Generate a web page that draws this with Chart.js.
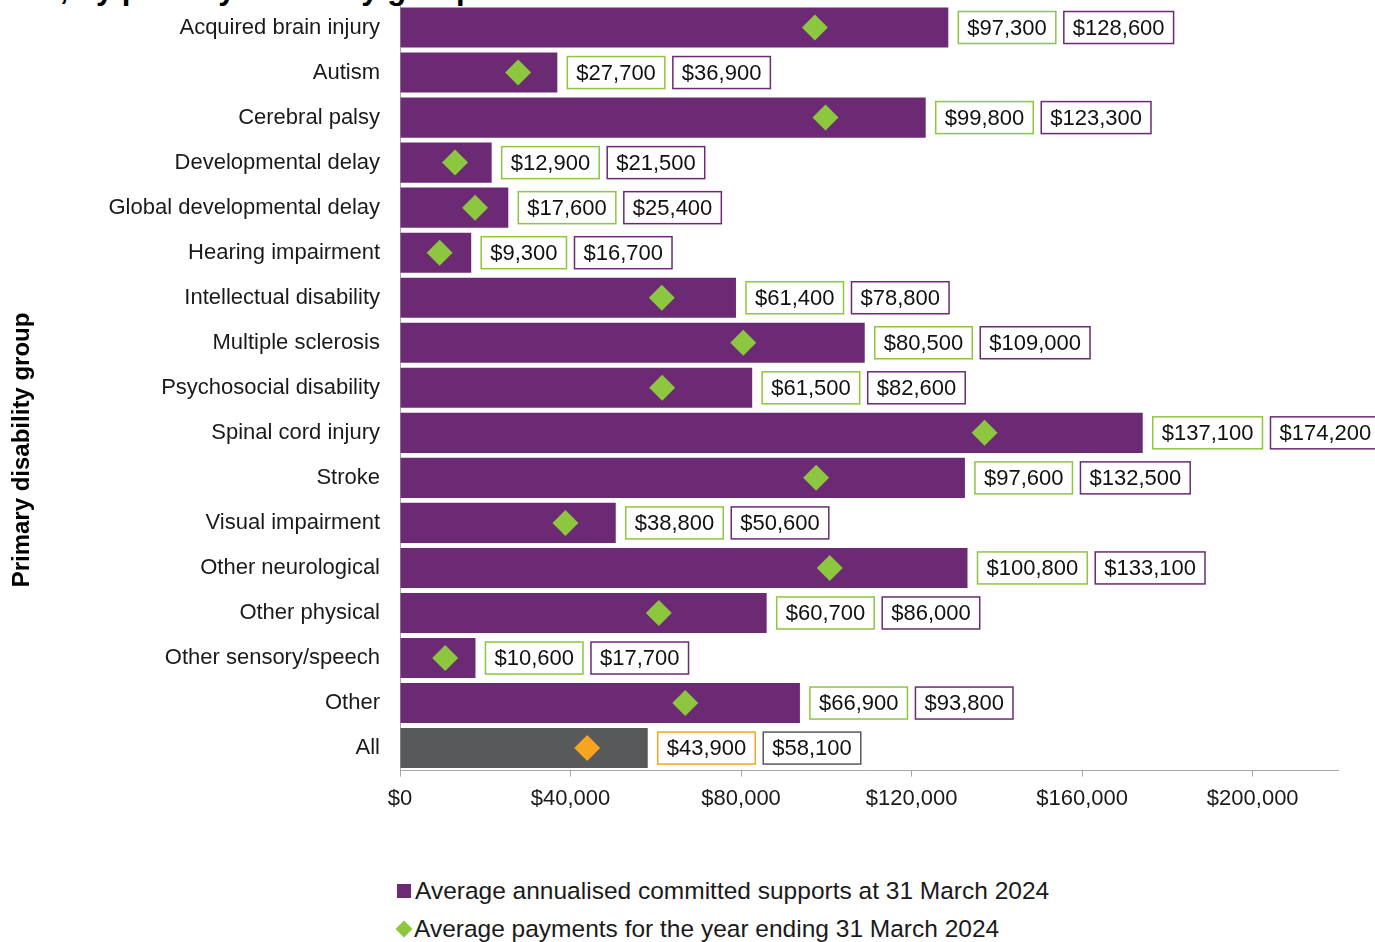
<!DOCTYPE html>
<html>
<head>
<meta charset="utf-8">
<script src="https://cdn.jsdelivr.net/npm/chart.js@4.4.1/dist/chart.umd.min.js"></script>
<style>
  body { margin: 0; width: 1375px; height: 942px; overflow: hidden; position: relative; background: #fff;
         font-family: "Liberation Sans", Arial, sans-serif; color: #1a1a1a; }
  #title { position: absolute; right: 900px; top: -27px; white-space: nowrap; font-weight: bold;
           font-size: 31px; line-height: 32px; color: #000; }
  #wrap { position: absolute; left: 0; top: 0; }
  #legend { position: absolute; left: 395px; top: 872px; font-size: 24.5px; }
  .item { display: flex; align-items: center; height: 38px; }
  .sq { width: 14px; height: 14px; background: #6b2a73; margin: 0 4px 0 2px; }
  .dm { width: 12px; height: 12px; background: #8dc63f; transform: rotate(45deg); margin: 0 4px 0 3px; }
</style>
</head>
<body>
<div id="title">Average committed supports and payments, by primary disability group</div>
<div id="wrap"><canvas id="chart" width="1375" height="830"></canvas></div>
<div id="legend">
  <div class="item"><span class="sq"></span>Average annualised committed supports at 31 March 2024</div>
  <div class="item"><span class="dm"></span>Average payments for the year ending 31 March 2024</div>
</div>
<script>
var categories = ["Acquired brain injury", "Autism", "Cerebral palsy", "Developmental delay",
  "Global developmental delay", "Hearing impairment", "Intellectual disability", "Multiple sclerosis",
  "Psychosocial disability", "Spinal cord injury", "Stroke", "Visual impairment", "Other neurological",
  "Other physical", "Other sensory/speech", "Other", "All"];
// average annualised committed supports ($)
var committed = [128600, 36900, 123300, 21500, 25400, 16700, 78800, 109000, 82600, 174200,
  132500, 50600, 133100, 86000, 17700, 93800, 58100];
// average payments for the year ($)
var payments = [97300, 27700, 99800, 12900, 17600, 9300, 61400, 80500, 61500, 137100,
  97600, 38800, 100800, 60700, 10600, 66900, 43900];
var xTicks = [0, 40000, 80000, 120000, 160000, 200000];
var xMax = 220000;

var PURPLE = "#6b2a73", GREEN = "#8dc63f", GREY = "#58595b", ORANGE = "#f7a51e";
var FONT = '"Liberation Sans", Arial, sans-serif';

function money(v) {
  return "$" + v.toLocaleString("en-US");
}

var barColours = categories.map(function (c) { return c === "All" ? GREY : PURPLE; });
var dotColours = categories.map(function (c) { return c === "All" ? ORANGE : GREEN; });

// white boxes with the two values next to each bar
var valueBoxes = {
  id: "valueBoxes",
  afterDatasetsDraw: function (chart) {
    var ctx = chart.ctx;
    var bars = chart.getDatasetMeta(1).data;
    ctx.save();
    ctx.font = "22px " + FONT;
    ctx.textBaseline = "middle";
    bars.forEach(function (bar, i) {
      var x = bar.x + 10;
      var pairs = [[payments[i], dotColours[i]], [committed[i], barColours[i]]];
      pairs.forEach(function (p) {
        var txt = money(p[0]);
        var w = ctx.measureText(txt).width + 18;
        ctx.fillStyle = "#fff";
        ctx.fillRect(x, bar.y - 16, w, 32);
        ctx.strokeStyle = p[1];
        ctx.lineWidth = 1.5;
        ctx.strokeRect(x, bar.y - 16, w, 32);
        ctx.fillStyle = "#111";
        ctx.fillText(txt, x + 9, bar.y + 1);
        x += w + 8;
      });
    });
    ctx.restore();
  }
};

// rotated y axis title
var yTitle = {
  id: "yTitle",
  afterDraw: function (chart) {
    var ctx = chart.ctx;
    ctx.save();
    ctx.translate(22, 450);
    ctx.rotate(-Math.PI / 2);
    ctx.font = "bold 24px " + FONT;
    ctx.fillStyle = "#000";
    ctx.textAlign = "center";
    ctx.textBaseline = "middle";
    ctx.fillText("Primary disability group", 0, 0);
    ctx.restore();
  }
};

new Chart(document.getElementById("chart"), {
  type: "bar",
  data: {
    labels: categories,
    datasets: [
      {
        type: "line",
        label: "Average payments for the year ending 31 March 2024",
        indexAxis: "y",
        data: payments,
        showLine: false,
        pointStyle: "rectRot",
        pointRadius: 13,
        pointHoverRadius: 13,
        pointBorderWidth: 0,
        pointBackgroundColor: dotColours,
        order: 0
      },
      {
        label: "Average annualised committed supports at 31 March 2024",
        indexAxis: "y",
        data: committed,
        backgroundColor: barColours,
        categoryPercentage: 1,
        barPercentage: 0.89,
        order: 1
      }
    ]
  },
  options: {
    indexAxis: "y",
    responsive: false,
    animation: false,
    layout: { autoPadding: false, padding: { top: 5, right: 37, bottom: 9, left: 0 } },
    plugins: { legend: { display: false }, tooltip: { enabled: false } },
    scales: {
      x: {
        type: "linear",
        min: 0,
        max: xMax,
        afterBuildTicks: function (s) {
          s.ticks = xTicks.map(function (v) { return { value: v }; });
        },
        ticks: {
          padding: 9,
          color: "#1a1a1a",
          font: { family: FONT, size: 22 },
          callback: function (v) { return money(v); }
        },
        grid: { drawOnChartArea: false, drawTicks: true, tickLength: 6, color: "#a6a6a6" },
        border: { color: "#a6a6a6" }
      },
      y: {
        type: "category",
        afterFit: function (s) {
          s.width = 400;
          s.paddingTop = 0;
          s.paddingBottom = 0;
        },
        ticks: {
          padding: 20,
          color: "#1a1a1a",
          font: { family: FONT, size: 22 }
        },
        grid: { display: false, drawTicks: false },
        border: { color: "#a6a6a6" }
      }
    }
  },
  plugins: [valueBoxes, yTitle]
});
</script>
</body>
</html>
